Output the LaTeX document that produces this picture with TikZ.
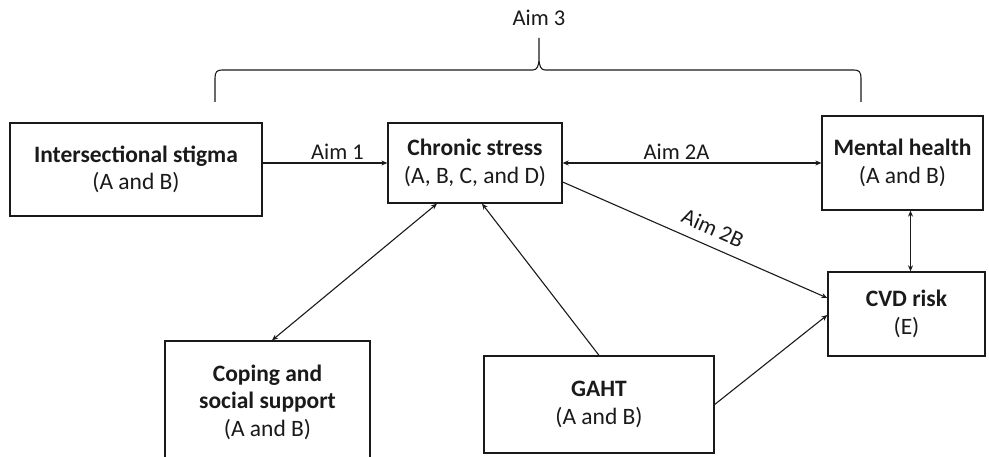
\documentclass[tikz,border=0pt]{standalone}
\usepackage{fontspec}
\setmainfont{Carlito}
\usetikzlibrary{arrows.meta,positioning,calc}
\definecolor{ink}{HTML}{1A1A1A}
\tikzset{
  blk/.style={rectangle,draw=ink,line width=1.3pt,fill=white,
              align=center,text=ink,inner sep=2pt,
              font=\fontsize{23.5}{27.5}\selectfont},
  arr/.style={-{Stealth[length=6pt,width=5pt]},line width=1.1pt,color=ink},
  darr/.style={{Stealth[length=6pt,width=5pt]}-{Stealth[length=6pt,width=5pt]},
               line width=1.1pt,color=ink},
  lbl/.style={font=\fontsize{22.5}{26}\selectfont,text=ink,inner sep=3pt},
}

\begin{document}
\begin{tikzpicture}[x=1pt,y=-1pt]
  \useasboundingbox (0,0) rectangle (989,457);

  % boxes
  \node[blk,minimum width=252pt,minimum height=93pt] (stigma) at (136,169.5)
    {\textbf{Intersectional stigma}\\(A and B)};
  \node[blk,minimum width=174pt,minimum height=80pt] (stress) at (475,163)
    {\textbf{Chronic stress}\\(A, B, C, and D)};
  \node[blk,minimum width=161pt,minimum height=94pt] (mental) at (902.5,163)
    {\textbf{Mental health}\\(A and B)};
  \node[blk,minimum width=157pt,minimum height=84pt] (cvd) at (906.5,314)
    {\textbf{CVD risk}\\(E)};
  \node[blk,minimum width=205pt,minimum height=122pt] (coping) at (267.5,402)
    {\textbf{Coping and}\\\textbf{social support}\\(A and B)};
  \node[blk,minimum width=230pt,minimum height=97pt] (gaht) at (599,404.5)
    {\textbf{GAHT}\\(A and B)};

  % aim 3 brace
  \node[lbl] (aim3) at (539,18) {Aim 3};
  \draw[line width=1.1pt,color=ink]
    (215,102) -- (215,78) .. controls (215,72) and (217,70) .. (222,70)
    -- (533,70) .. controls (537,70) and (539,66) .. (539,58) -- (539,38)
    (539,58) .. controls (539,66) and (541,70) .. (545,70)
    -- (854,70) .. controls (859,70) and (861,72) .. (861,78) -- (861,102);

  % connectors
  \draw[arr] (stress.west -| stigma.east) -- node[lbl,above,pos=0.6] {Aim 1}
    (stress.west);
  \draw[darr] (stress.east) -- node[lbl,above,pos=0.44] {Aim 2A} (mental.west);
  \draw[arr] ([yshift=-19pt]stress.east) --
    node[lbl,above=7pt,sloped,pos=0.54] {Aim 2B} ([yshift=16pt]cvd.west);
  \draw[darr] ([xshift=4pt]cvd.north) -- ([xshift=4pt]cvd.north |- mental.south);
  \draw[darr] ([xshift=4.5pt]coping.north) -- ([xshift=-38pt]stress.south);
  \draw[arr] (gaht.north) -- ([xshift=7pt]stress.south);
  \draw[arr] (gaht.east) -- ([yshift=-1pt]cvd.west);
\end{tikzpicture}
\end{document}
